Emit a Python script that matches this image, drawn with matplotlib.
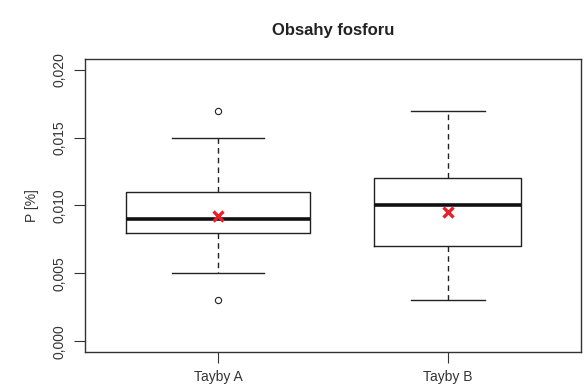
import matplotlib
matplotlib.use('Agg')
import matplotlib.pyplot as plt
from matplotlib.ticker import FuncFormatter

plt.rcParams['font.family'] = ['Liberation Sans', 'DejaVu Sans']

# box statistics
groups = ['Tayby A', 'Tayby B']
whisker_low = [0.005, 0.003]
q1 = [0.008, 0.007]
medians = [0.009, 0.010]
q3 = [0.011, 0.012]
whisker_high = [0.015, 0.017]
outliers = [[0.003, 0.017], []]
means = [0.00925, 0.0095]
box_widths = [0.8, 0.64]

stats = []
for i in range(len(groups)):
    stats.append(dict(label=groups[i], whislo=whisker_low[i], q1=q1[i], med=medians[i],
                      q3=q3[i], whishi=whisker_high[i], fliers=outliers[i]))

fig = plt.figure(figsize=(5.85, 3.85), dpi=100)
ax = fig.add_axes([85/585, 33/385, 496/585, 293/385])

line_col = '#222222'
ax.bxp(stats, positions=[1, 2], widths=box_widths, showfliers=True,
       boxprops=dict(color=line_col, linewidth=1.0),
       medianprops=dict(color='#111111', linewidth=2.6),
       whiskerprops=dict(color=line_col, linewidth=1.0, linestyle=(0, (4, 3))),
       capprops=dict(color=line_col, linewidth=1.0),
       capwidths=[w / 2 for w in box_widths],
       flierprops=dict(marker='o', markersize=4.5, markerfacecolor='none',
                       markeredgecolor=line_col, markeredgewidth=0.8))

ax.plot([1, 2], means, linestyle='none', marker='x', color='#e8202a',
        markersize=7, markeredgewidth=2.4, zorder=5)

ax.set_xlim(0.42, 2.58)
ax.set_ylim(-0.0008, 0.0208)
ax.set_yticks([0, 0.005, 0.01, 0.015, 0.02])
ax.yaxis.set_major_formatter(FuncFormatter(lambda v, p: f'{v:.3f}'.replace('.', ',')))
ax.set_xticks([1, 2])
ax.set_xticklabels(groups)
for lbl in ax.get_yticklabels():
    lbl.set_rotation(90)
    lbl.set_va('center')
ax.tick_params(axis='both', length=8, width=0.8, color='#333333', labelsize=10,
               labelcolor='#333333', pad=5)
for s in ax.spines.values():
    s.set_color('#333333')
    s.set_linewidth(1.0)

ax.set_ylabel('P [%]', fontsize=10, color='#333333', labelpad=10)
ax.set_title('Obsahy fosforu', fontsize=12, fontweight='bold', color='#222222', pad=17)

plt.savefig('out.png', dpi=100)
